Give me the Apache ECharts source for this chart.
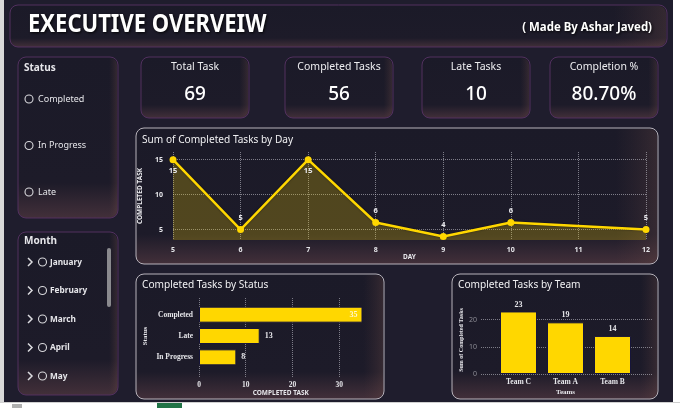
<!DOCTYPE html>
<html>
<head>
<meta charset="utf-8">
<script src="https://cdn.jsdelivr.net/npm/echarts@6/dist/echarts.min.js"></script>
<style>
  html, body { margin: 0; padding: 0; background: #fff; }
  #main { width: 680px; height: 408px; }
</style>
</head>
<body>
<div id="main"></div>
<script>
// data
const kpiTitles = ['Total Task', 'Completed Tasks', 'Late Tasks', 'Completion %'];
const kpiValues = ['69', '56', '10', '80.70%'];
const statusFilters = ['Completed', 'In Progress', 'Late'];
const months = ['January', 'February', 'March', 'April', 'May'];

const days = [5, 6, 7, 8, 9, 10, 12];
const dayTasks = [15, 5, 15, 6, 4, 6, 5];
const dayTicks = [5, 10, 15];

const statusNames = ['Completed', 'Late', 'In Progress'];
const statusTasks = [35, 13, 8];
const statusTicks = [0, 10, 20, 30];

const teamNames = ['Team C', 'Team A', 'Team B'];
const teamTasks = [23, 19, 14];
const teamTicks = [0, 10, 20];

const YELLOW = '#FFD700';
const TXT = '#e6e6ea';
const SANS = 'Noto Sans';
const SERIF = 'Liberation Serif';
const dotted = { show: true, lineStyle: { type: 'dotted', color: 'rgba(205,205,215,0.55)', width: 1 } };

// card with the soft warm glow at the bottom/right edge
function panel(x, y, w, h, stroke) {
    return [{
        type: 'rect', z: -10,
        shape: { x: x, y: y, width: w, height: h, r: 8 },
        style: {
            fill: { type: 'linear', x: 0, y: 0, x2: 0, y2: 1, colorStops: [
                { offset: 0, color: '#1b1a28' }, { offset: 0.78, color: '#1d1b29' }, { offset: 1, color: '#43303a' }] },
            stroke: stroke, lineWidth: 1
        }
    }, {
        type: 'rect', z: -9,
        shape: { x: x + 1, y: y + 1, width: w - 2, height: h - 2, r: 7 },
        style: {
            fill: { type: 'linear', x: 0, y: 0, x2: 1, y2: 0, colorStops: [
                { offset: 0, color: 'rgba(90,60,60,0)' }, { offset: 0.92, color: 'rgba(90,60,60,0)' }, { offset: 1, color: 'rgba(110,75,70,0.3)' }] }
        }
    }];
}

function txt(x, y, text, size, o) {
    o = o || {};
    return {
        type: 'text', z: 5, x: x, y: y, scaleX: o.sx || 1,
        style: {
            text: text, fill: o.color || TXT, fontSize: size, fontFamily: o.ff || SANS,
            fontWeight: o.w || 'normal', align: o.align || 'left', textAlign: o.align || 'left',
            verticalAlign: 'middle', textVerticalAlign: 'middle',
            textShadowColor: o.shadow ? 'rgba(0,0,0,0.9)' : 'transparent', textShadowBlur: o.shadow ? 3 : 0,
            textShadowOffsetX: o.shadow ? 1 : 0, textShadowOffsetY: o.shadow ? 1 : 0
        }
    };
}

function ring(cx, cy) {
    return { type: 'circle', z: 5, shape: { cx: cx, cy: cy, r: 4 }, style: { fill: 'none', stroke: '#d8d8dc', lineWidth: 1.1 } };
}

const purple = '#52305f';
const grey = '#b8b3bb';
let g = [];
// page
g.push({ type: 'rect', z: -20, shape: { x: 4, y: 0, width: 669, height: 402 }, style: { fill: '#1f1d2d' } });
g.push({ type: 'rect', z: -20, shape: { x: 0, y: 0, width: 4, height: 402 }, style: { fill: '#d9d9d9' } });
g.push({ type: 'rect', z: -20, shape: { x: 0, y: 402, width: 680, height: 1 }, style: { fill: '#d0d0d0' } });
g.push({ type: 'rect', z: -20, shape: { x: 157, y: 403, width: 25, height: 5 }, style: { fill: '#217346' } });
g.push({ type: 'rect', z: -20, shape: { x: 12, y: 404, width: 10, height: 4 }, style: { fill: '#b0b0b0' } });

// header
g = g.concat(panel(10, 5, 657, 42, purple));
g.push(txt(28, 25, 'EXECUTIVE OVERVEIW', 25, { w: 'bold', color: '#ffffff', sx: 0.88, shadow: true }));
g.push(txt(652, 27, '( Made By Ashar Javed)', 13, { w: 'bold', color: '#ffffff', sx: 0.88, align: 'right', shadow: true }));

// status slicer
g = g.concat(panel(18, 57, 100, 161, purple));
g.push(txt(24, 68, 'Status', 10, { w: 'bold' }));
statusFilters.forEach(function (s, i) {
    const y = 99 + i * 46.5;
    g.push(ring(29, y));
    g.push(txt(38, y, s, 9));
});

// month slicer
g = g.concat(panel(18, 232, 100, 163, purple));
g.push(txt(24, 241, 'Month', 10, { w: 'bold' }));
months.forEach(function (m, i) {
    const y = 262 + i * 28.5;
    g.push({ type: 'polyline', z: 5, shape: { points: [[28, y - 4], [32, y], [28, y + 4]] }, style: { stroke: '#dcdce0', lineWidth: 1.5, fill: 'none' } });
    g.push(ring(42.5, y));
    g.push(txt(50, y, m, 9, { w: 'bold', sx: 0.92 }));
});
g.push({ type: 'rect', z: 5, shape: { x: 107, y: 248, width: 4, height: 59, r: 2 }, style: { fill: '#8a8a8e' } });

// KPI cards
const kpiX = [141, 285, 422, 550];
kpiTitles.forEach(function (t, i) {
    g = g.concat(panel(kpiX[i], 57, 108, 61, purple));
    g.push(txt(kpiX[i] + 54, 67, t, 10.5, { align: 'center', color: '#ededf0' }));
    g.push(txt(kpiX[i] + 54, 94, kpiValues[i], 20, { align: 'center', color: '#ffffff', w: 500, sx: 0.95 }));
});

// chart cards
g = g.concat(panel(136, 128, 522, 136, grey));
g.push(txt(142, 140, 'Sum of Completed Tasks by Day', 11, { sx: 0.92, color: '#f0f0f2' }));
g = g.concat(panel(136, 274, 248, 125, grey));
g.push(txt(142, 285, 'Completed Tasks by Status', 11, { sx: 0.92, color: '#f0f0f2' }));
g = g.concat(panel(452, 274, 206, 125, grey));
g.push(txt(458, 285, 'Completed Tasks by Team', 11, { sx: 0.92, color: '#f0f0f2' }));

const axLabel = { color: TXT, fontSize: 7, fontWeight: 'bold', fontFamily: SANS };
const serifLabel = { color: TXT, fontSize: 7.5, fontWeight: 'bold', fontFamily: SERIF };
const noLine = { show: false };

const option = {
    backgroundColor: '#ffffff',
    animation: false,
    graphic: { elements: g },
    grid: [
        { left: 173, top: 152, width: 473, height: 88 },   // by day
        { left: 199, top: 304, width: 163.5, height: 64 }, // status bars
        { left: 199, top: 298, width: 163.5, height: 80 }, // status split lines
        { left: 495, top: 306, width: 141, height: 68 },   // team bars
        { left: 481, top: 306, width: 171, height: 68 }    // team split lines
    ],
    xAxis: [
        {
            gridIndex: 0, type: 'value', min: 5, max: 12, interval: 1,
            axisLine: noLine, axisTick: noLine, splitLine: dotted,
            axisLabel: Object.assign({ margin: 6 }, axLabel),
            name: 'DAY', nameLocation: 'middle', nameGap: 14,
            nameTextStyle: { color: TXT, fontSize: 6.5, fontWeight: 'bold', fontFamily: SANS }
        },
        { gridIndex: 1, type: 'value', min: 0, max: 35, show: false },
        {
            gridIndex: 2, type: 'value', min: 0, max: 35,
            axisLine: noLine, axisTick: { show: false, customValues: statusTicks }, splitLine: dotted,
            axisLabel: Object.assign({ margin: 3, customValues: statusTicks }, serifLabel),
            name: 'COMPLETED TASK', nameLocation: 'middle', nameGap: 11,
            nameTextStyle: { color: TXT, fontSize: 6.5, fontWeight: 'bold', fontFamily: SANS }
        },
        {
            gridIndex: 3, type: 'category', data: teamNames,
            axisLine: noLine, axisTick: noLine,
            axisLabel: Object.assign({ margin: 4 }, serifLabel),
            name: 'Teams', nameLocation: 'middle', nameGap: 15,
            nameTextStyle: { color: TXT, fontSize: 7, fontWeight: 'bold', fontFamily: SERIF }
        },
        { gridIndex: 4, type: 'value', min: 0, max: 1, show: false }
    ],
    yAxis: [
        {
            gridIndex: 0, type: 'value', min: 3.5, max: 16.1,
            axisLine: noLine, axisTick: { show: false, customValues: dayTicks }, splitLine: dotted,
            axisLabel: Object.assign({ margin: 10, customValues: dayTicks }, axLabel),
            name: 'COMPLETED TASK', nameLocation: 'middle', nameGap: 24,
            nameTextStyle: { color: TXT, fontSize: 6.5, fontWeight: 'bold', fontFamily: SANS }
        },
        {
            gridIndex: 1, type: 'category', data: statusNames, inverse: true,
            axisLine: noLine, axisTick: noLine,
            axisLabel: Object.assign({ margin: 6 }, serifLabel),
            name: 'Status', nameLocation: 'middle', nameGap: 50,
            nameTextStyle: { color: TXT, fontSize: 7, fontWeight: 'bold', fontFamily: SERIF }
        },
        { gridIndex: 2, type: 'value', min: 0, max: 1, show: false },
        { gridIndex: 3, type: 'value', min: 0, max: 25, show: false },
        {
            gridIndex: 4, type: 'value', min: 0, max: 25,
            axisLine: noLine, axisTick: { show: false, customValues: teamTicks }, splitLine: dotted,
            axisLabel: { margin: 4, customValues: teamTicks, color: '#8d8d95', fontSize: 7, fontFamily: SANS },
            name: 'Sum of Completed Tasks', nameLocation: 'middle', nameGap: 17,
            nameTextStyle: { color: TXT, fontSize: 6, fontWeight: 'bold', fontFamily: SERIF }
        }
    ],
    series: [
        {
            type: 'line', xAxisIndex: 0, yAxisIndex: 0, z: 3,
            data: days.map(function (d, i) {
                return { value: [d, dayTasks[i]], label: { position: dayTasks[i] >= 15 ? 'bottom' : 'top' } };
            }),
            symbol: 'circle', symbolSize: 7,
            itemStyle: { color: YELLOW },
            lineStyle: { color: YELLOW, width: 2.5, shadowColor: 'rgba(0,0,0,0.5)', shadowBlur: 2 },
            areaStyle: { color: 'rgba(255,215,0,0.33)', origin: 'start' },
            label: { show: true, distance: 4, color: TXT, fontSize: 7.5, fontWeight: 'bold', fontFamily: SANS }
        },
        {
            type: 'bar', xAxisIndex: 1, yAxisIndex: 1, barWidth: 16,
            data: statusTasks.map(function (v) {
                return { value: v, label: v >= 30 ? { position: 'insideRight', color: '#fff6d0' } : {} };
            }),
            itemStyle: { color: YELLOW, borderColor: '#16153a', borderWidth: 1 },
            label: { show: true, position: 'right', distance: 5, color: TXT, fontSize: 8, fontWeight: 'bold', fontFamily: SERIF }
        },
        {
            type: 'bar', xAxisIndex: 3, yAxisIndex: 3, barWidth: 37,
            data: teamTasks,
            itemStyle: { color: YELLOW, borderColor: '#16153a', borderWidth: 1 },
            label: { show: true, position: 'top', distance: 3, color: TXT, fontSize: 8, fontWeight: 'bold', fontFamily: SERIF }
        }
    ]
};

const chart = echarts.init(document.getElementById('main'));
chart.setOption(option);
</script>
</body>
</html>
